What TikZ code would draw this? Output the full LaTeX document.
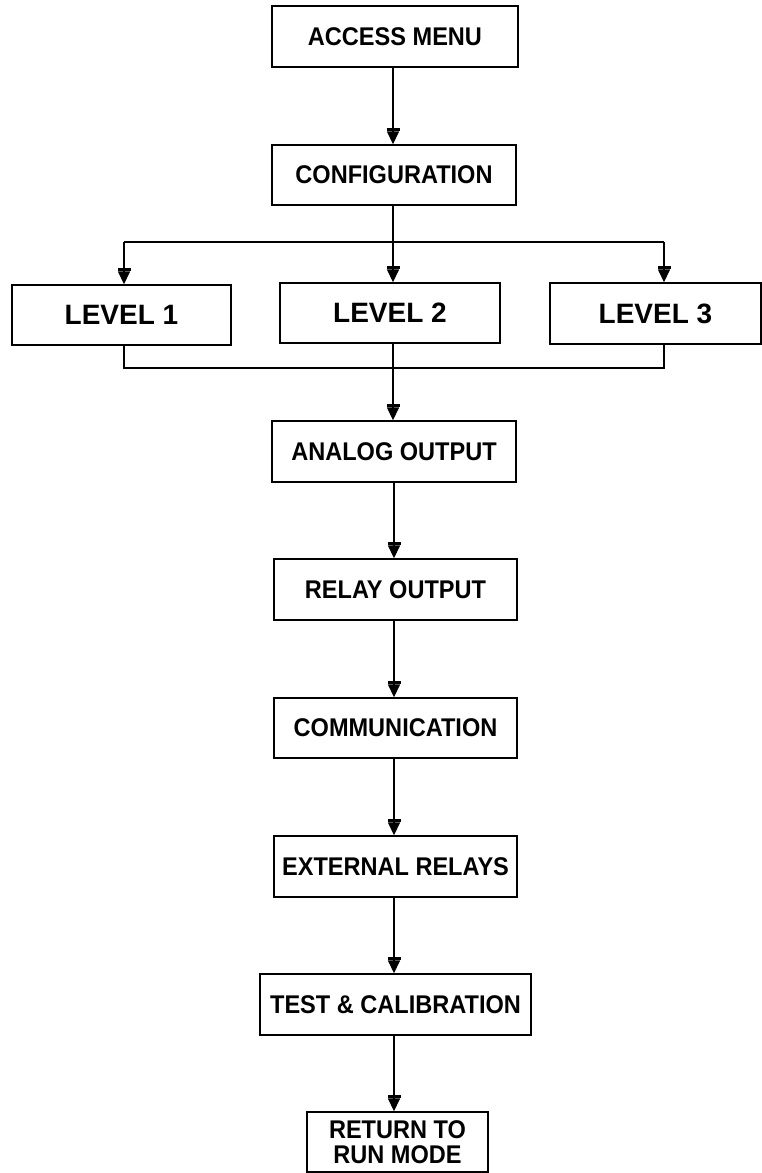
\documentclass[tikz,border=0pt]{standalone}
\usepackage{fontspec}
\setmainfont{Liberation Sans}
\newfontfamily\boxfont[FakeStretch=0.92]{Liberation Sans}
\usetikzlibrary{arrows.meta}
\begin{document}
\begin{tikzpicture}[x=1pt,y=-1pt,
  box/.style={draw=black, line width=1.4pt, fill=white, inner sep=0pt, align=center,
    font=\boxfont\bfseries\fontsize{25.6}{25}\selectfont},
  lvl/.style={box, font=\bfseries\fontsize{28}{30}\selectfont},
  conn/.style={draw=black, line width=1.5pt},
  arr/.style={conn, -{Rectangle[length=3pt,width=13pt]Triangle[length=13pt,width=12pt]}}]
\useasboundingbox (0,0) rectangle (761,1173);
\node[box, minimum width=246pt, minimum height=61pt] (acc) at (395,36.5) {ACCESS MENU};
\node[box, minimum width=244pt, minimum height=60pt] (conf) at (394,175) {CONFIGURATION};
\node[lvl, minimum width=219pt, minimum height=60pt] (l1) at (121.5,315) {LEVEL 1};
\node[lvl, minimum width=220pt, minimum height=60pt] (l2) at (390,313) {LEVEL 2};
\node[lvl, minimum width=211pt, minimum height=61pt] (l3) at (655.5,313.5) {LEVEL 3};
\node[box, minimum width=244pt, minimum height=61pt] (ana) at (394,451.5) {ANALOG OUTPUT};
\node[box, minimum width=243pt, minimum height=61pt] (rel) at (395.5,589.5) {RELAY OUTPUT};
\node[box, minimum width=243pt, minimum height=60pt] (com) at (395.5,728) {COMMUNICATION};
\node[box, minimum width=243pt, minimum height=61pt] (ext) at (395.5,866.5) {EXTERNAL RELAYS};
\node[box, minimum width=271pt, minimum height=61pt] (test) at (395.5,1004.5) {TEST \& CALIBRATION};
\node[box, minimum width=181pt, minimum height=60pt] (ret) at (397.5,1142) {RETURN TO\\RUN MODE};
\coordinate (j1) at (393,242);
\coordinate (j2) at (393,368);
\coordinate (b1) at (124,242);
\coordinate (b3) at (664,242);
% connectors
\draw[arr] (acc.south -| j1) -- (j1 |- conf.north);
\draw[conn] (j1 |- conf.south) -- (j1);
\draw[conn] (b1) -- (b3);
\draw[arr] (j1) -- (j1 |- l2.north);
\draw[arr] (b1) -- (b1 |- l1.north);
\draw[arr] (b3) -- (b3 |- l3.north);
\draw[conn] (b1 |- l1.south) -- (b1 |- j2) -- (b3 |- j2) -- (b3 |- l3.south);
\draw[arr] (j1 |- l2.south) -- (j1 |- ana.north);
\draw[arr] (ana.south -| 394,0) -- (394,0 |- rel.north);
\draw[arr] (rel.south -| 394,0) -- (394,0 |- com.north);
\draw[arr] (com.south -| 394,0) -- (394,0 |- ext.north);
\draw[arr] (ext.south -| 394,0) -- (394,0 |- test.north);
\draw[arr] (test.south -| 394,0) -- (394,0 |- ret.north);
\end{tikzpicture}
\end{document}
